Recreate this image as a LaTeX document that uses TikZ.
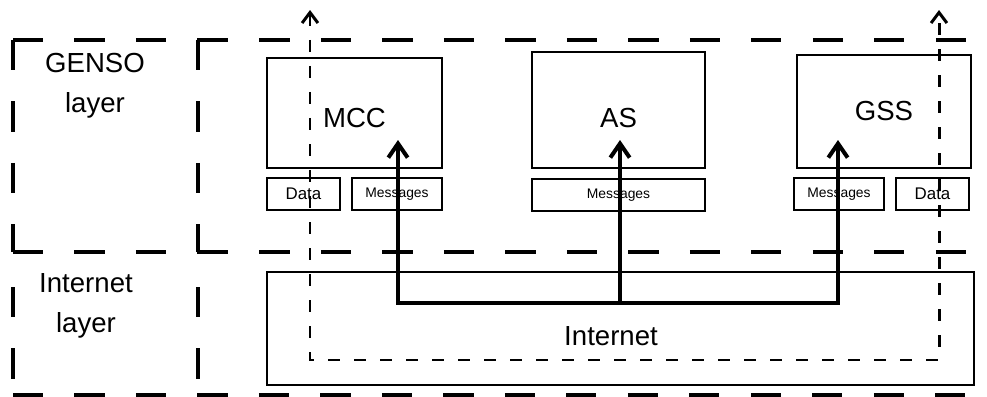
\documentclass[tikz,border=0pt]{standalone}
\usepackage{fontspec}
\setmainfont{Liberation Sans}
\usepackage{tikz}
\usetikzlibrary{arrows.meta}

\begin{document}
\begin{tikzpicture}[x=0.02cm,y=-0.02cm,>={Straight Barb[length=6pt,width=9pt]},
  every node/.style={font=\fontsize{15.7}{22.8}\selectfont},
  box/.style={draw,line width=1.5pt,inner sep=0pt},
  smallbox/.style={box,font=\fontsize{7.9}{9}\selectfont,minimum height=0.64cm},
  databox/.style={smallbox,font=\fontsize{9.6}{11}\selectfont,minimum width=1.46cm},
  layerline/.style={line width=1.8pt,dash pattern=on 17.1pt off 17.9pt},
  flow/.style={line width=1.7pt,dash pattern=on 6.8pt off 8pt},
  bus/.style={line width=2.3pt,-{Straight Barb[length=8pt,width=11pt]}}]
\useasboundingbox (0,0) rectangle (987,396);
\clip (0,0) rectangle (987,396);
\foreach \x in {13,198} {
  \draw[layerline] (\x,40) -- (\x,252);
  \draw[layerline] (\x,287) -- (\x,395);
}
\foreach \y in {40,252} {
  \draw[layerline] (13,\y) -- (198,\y);
  \draw[layerline] (198,\y) -- (1000,\y);
}
\draw[layerline] (13,395) -- (1000,395);
\node[align=center] (genso) at (95,86) {GENSO\\layer};
\node[align=center] (inet) at (86,306) {Internet\\layer};
\node[box,minimum width=3.5cm,minimum height=2.2cm,text height=16.8pt,text depth=0pt] (mcc) at (354.5,113) {MCC};
\node[box,minimum width=3.46cm,minimum height=2.32cm,text height=20.2pt,text depth=0pt] (as) at (618.5,110) {AS};
\node[box,minimum width=3.48cm,minimum height=2.26cm] (gss) at (884,111.5) {GSS};
\node[databox] (dataM) at (303.5,194) {Data};
\node[smallbox,minimum width=1.8cm] (msgM) at (397,194) {Messages};
\node[smallbox,minimum width=3.46cm] (msgA) at (618.5,195) {Messages};
\node[smallbox,minimum width=1.8cm] (msgG) at (839,194) {Messages};
\node[databox] (dataG) at (932.5,194) {Data};
\node[box,minimum width=14.14cm,minimum height=2.26cm,text height=19.8pt,text depth=0pt] (net) at (620.5,328.5) {Internet\hspace*{10.8pt}};
\coordinate (hub) at (620,303);
\coordinate (tipM) at (398,140);
\coordinate (tipA) at (620,140);
\coordinate (tipG) at (838,140);
\draw[bus] (hub) -- (tipA);
\draw[bus] (hub) -| (tipM);
\draw[bus] (hub) -| (tipG);
\coordinate (outM) at (310,10);
\coordinate (outG) at (939,10);
\coordinate (turnM) at (310,360);
\coordinate (turnG) at (939,360);
\draw[flow,<->] (outM) -- (turnM) -- (turnG) -- (outG);
\end{tikzpicture}
\end{document}
